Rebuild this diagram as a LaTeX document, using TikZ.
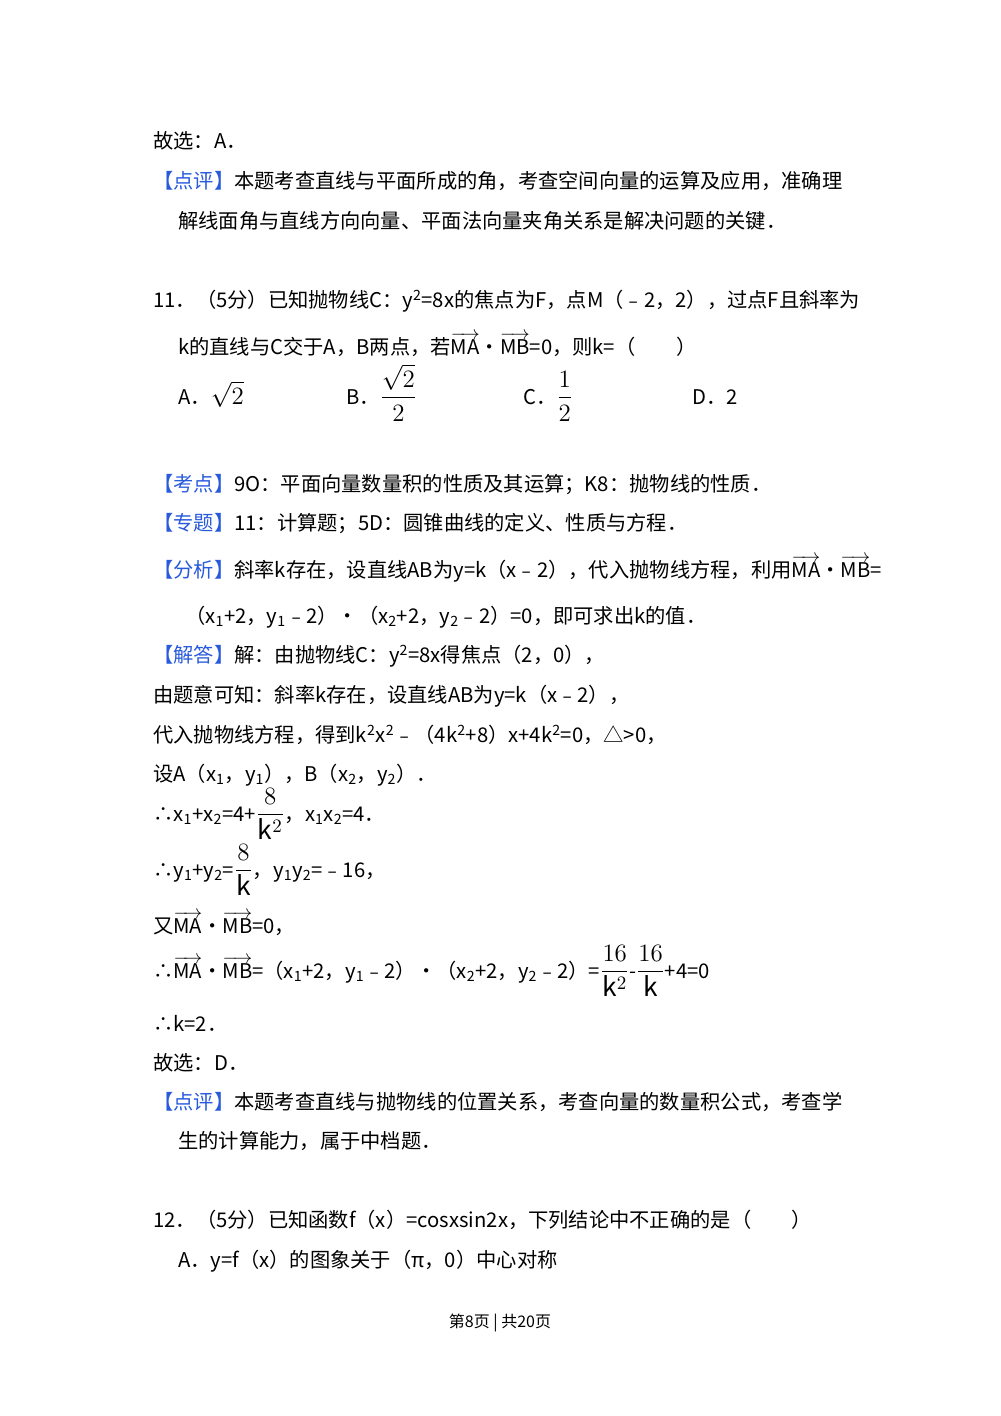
\documentclass[tikz,border=0pt]{standalone}
\usepackage{amsmath}
\usepackage{fontspec}
\setmainfont{Noto Sans CJK SC}
\newcommand{\vect}[1]{$\overrightarrow{\mathrm{#1}}$}
\newcommand{\mm}[1]{\raisebox{0pt}{\scalebox{1.3}{$#1$}}}
\newcommand{\hl}[1]{\textcolor{lblue}{#1}}
\newcommand{\sub}[1]{\textsubscript{#1}}
\newcommand{\sups}[1]{\textsuperscript{#1}}
\definecolor{lblue}{RGB}{40,90,220}
\begin{document}
\begin{tikzpicture}[x=0.75pt,y=-0.75pt,
  ln/.style={anchor=base west,inner sep=0pt,font=\fontsize{15.2}{18}\selectfont}]
\useasboundingbox (0,0) rectangle (1000,1416);
\fill[white] (0,0) rectangle (1000,1416);
\node[ln] (l1) at (153,149) {故选：A．};
\node[ln] (l2) at (153,188) {\hl{【点评】}本题考查直线与平面所成的角，考查空间向量的运算及应用，准确理};
\node[ln] (l3) at (178,228) {解线面角与直线方向向量、平面法向量夹角关系是解决问题的关键．};
\node[ln] (l4) at (153,307) {11．（5分）已知抛物线C：y\sups{2}=8x的焦点为F，点M（﹣2，2），过点F且斜率为};
\node[ln] (l5) at (178,354) {k的直线与C交于A，B两点，若\vect{MA}•\vect{MB}=0，则k=（\quad\quad）};
\node[ln] (a) at (178,404) {A．\mm{\sqrt{2}}};
\node[ln] (b) at (346,404) {B．\mm{\dfrac{\sqrt{2}}{2}}};
\node[ln] (c) at (523,404) {C．\mm{\dfrac{1}{2}}};
\node[ln] (d) at (692,404) {D．2};
\node[ln] (l6) at (153,491) {\hl{【考点】}9O：平面向量数量积的性质及其运算；K8：抛物线的性质．};
\node[ln] (l7) at (153,530) {\hl{【专题】}11：计算题；5D：圆锥曲线的定义、性质与方程．};
\node[ln] (l8) at (153,577) {\hl{【分析】}斜率k存在，设直线AB为y=k（x﹣2），代入抛物线方程，利用\vect{MA}•\vect{MB}=};
\node[ln] (l9) at (185,623) {（x\sub{1}+2，y\sub{1}﹣2）•（x\sub{2}+2，y\sub{2}﹣2）=0，即可求出k的值．};
\node[ln] (l10) at (153,662) {\hl{【解答】}解：由抛物线C：y\sups{2}=8x得焦点（2，0），};
\node[ln] (l11) at (153,702) {由题意可知：斜率k存在，设直线AB为y=k（x﹣2），};
\node[ln] (l12) at (153,742) {代入抛物线方程，得到k\sups{2}x\sups{2}﹣（4k\sups{2}+8）x+4k\sups{2}=0，△>0，};
\node[ln] (l13) at (153,781) {设A（x\sub{1}，y\sub{1}），B（x\sub{2}，y\sub{2}）．};
\node[ln] (l14) at (153,821) {∴x\sub{1}+x\sub{2}=4+\mm{\dfrac{8}{\mathrm{k}^2}}，x\sub{1}x\sub{2}=4．};
\node[ln] (l15) at (153,877) {∴y\sub{1}+y\sub{2}=\mm{\dfrac{8}{\mathrm{k}}}，y\sub{1}y\sub{2}=﹣16，};
\node[ln] (l16) at (153,933) {又\vect{MA}•\vect{MB}=0，};
\node[ln] (l17) at (153,978) {∴\vect{MA}•\vect{MB}=（x\sub{1}+2，y\sub{1}﹣2）•（x\sub{2}+2，y\sub{2}﹣2）=\mm{\dfrac{16}{\mathrm{k}^2}}-\mm{\dfrac{16}{\mathrm{k}}}+4=0};
\node[ln] (l18) at (153,1031) {∴k=2．};
\node[ln] (l19) at (153,1070) {故选：D．};
\node[ln] (l20) at (153,1109) {\hl{【点评】}本题考查直线与抛物线的位置关系，考查向量的数量积公式，考查学};
\node[ln] (l21) at (178,1148) {生的计算能力，属于中档题．};
\node[ln] (l22) at (153,1227) {12．（5分）已知函数f（x）=cosxsin2x，下列结论中不正确的是（\quad\quad）};
\node[ln] (l23) at (178,1267) {A．y=f（x）的图象关于（π，0）中心对称};
\node[anchor=base,inner sep=0pt,font=\fontsize{12}{14}\selectfont] (ft) at (500,1327) {第8页 | 共20页};
\end{tikzpicture}
\end{document}
